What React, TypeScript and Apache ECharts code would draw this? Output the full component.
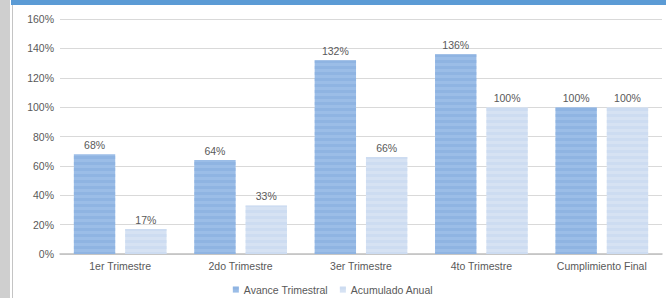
import React, { useEffect, useRef } from "react";
import * as echarts from "echarts";

const categories = ["1er Trimestre", "2do Trimestre", "3er Trimestre", "4to Trimestre", "Cumplimiento Final"];
const avanceTrimestral = [0.68, 0.64, 1.32, 1.36, 1.0];
const acumuladoAnual = [0.17, 0.33, 0.66, 1.0, 1.0];
const seriesNames = ["Avance Trimestral", "Acumulado Anual"];

const FONT = "'Liberation Sans', Arial, sans-serif";

export default function App() {
  const ref = useRef<HTMLDivElement>(null);
  useEffect(() => {
    if (!ref.current) return;
    const chart = echarts.init(ref.current, undefined, { renderer: "svg" });
    const pct = (v: number) => Math.round(v * 100) + "%";
    const label = {
      show: true,
      position: "top" as const,
      distance: 4,
      fontSize: 10.5,
      fontFamily: FONT,
      color: "#595959",
      formatter: (p: any) => pct(p.value),
    };
    chart.setOption({
      animation: false,
      backgroundColor: "#ffffff",
      textStyle: { fontFamily: FONT },
      graphic: [
        { type: "rect", shape: { x: 0, y: 0, width: 10, height: 298 }, style: { fill: "#CFCFCF" }, silent: true },
        { type: "line", shape: { x1: 12.5, y1: 0, x2: 12.5, y2: 298 }, style: { stroke: "#C4C4C4", lineWidth: 1 }, silent: true },
        { type: "rect", shape: { x: 11, y: 0, width: 655, height: 5 }, style: { fill: "#5B9BD5" }, silent: true },
      ],
      grid: { left: 60, right: 4, top: 19, bottom: 44 },
      legend: {
        data: seriesNames,
        bottom: -2,
        left: "center",
        itemWidth: 6,
        itemHeight: 6,
        itemGap: 12,
        icon: "rect",
        textStyle: { fontSize: 10.5, color: "#595959", fontFamily: FONT },
      },
      xAxis: {
        type: "category",
        data: categories,
        axisLine: { lineStyle: { color: "#BFBFBF", width: 1.5 } },
        axisTick: { show: false },
        axisLabel: { fontSize: 10.5, color: "#595959", margin: 6, fontFamily: FONT },
      },
      yAxis: {
        type: "value",
        min: 0,
        max: 1.6,
        interval: 0.2,
        axisLine: { show: false },
        axisTick: { show: false },
        splitLine: { lineStyle: { color: "#D9D9D9", width: 1 } },
        axisLabel: { fontSize: 10.5, color: "#595959", margin: 6, fontFamily: FONT, formatter: pct },
      },
      series: [
        {
          name: seriesNames[0],
          type: "bar",
          data: avanceTrimestral,
          barGap: "24%",
          barCategoryGap: "23%",
          itemStyle: {
            color: "#9BBDE7",
            decal: { symbol: "rect", symbolSize: 1, color: "rgba(128,168,220,0.45)", dashArrayX: [1, 0], dashArrayY: [3, 3], rotation: 0 },
          },
          label,
        },
        {
          name: seriesNames[1],
          type: "bar",
          data: acumuladoAnual,
          itemStyle: {
            color: "#D6E2F3",
            decal: { symbol: "rect", symbolSize: 1, color: "rgba(196,214,238,0.55)", dashArrayX: [1, 0], dashArrayY: [3, 3], rotation: 0 },
          },
          label,
        },
      ],
    });
    return () => chart.dispose();
  }, []);
  return <div ref={ref} style={{ position: "fixed", left: 0, top: 0, width: 666, height: 298 }} />;
}
